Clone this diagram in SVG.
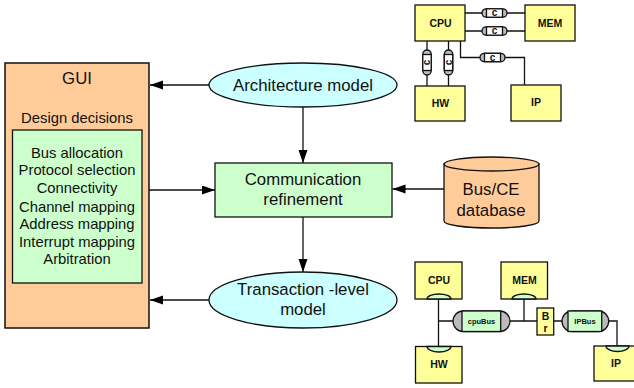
<svg xmlns="http://www.w3.org/2000/svg" width="634" height="388" viewBox="0 0 634 388">
<style>
text{font-family:"Liberation Sans",Arial,sans-serif;fill:#111;text-anchor:middle}
.t{font-size:14.800px}.m{font-size:16.800px}.b{font-weight:bold;font-size:10.500px}
.y{fill:#ffff99;stroke:#111;stroke-width:1.300}
.g{fill:#ccffcc;stroke:#111;stroke-width:1.300}
.gr{fill:#bbbbbb;stroke:#111;stroke-width:1.300}
.w{fill:#fff;stroke:#111;stroke-width:1.300}
.c{fill:none;stroke:#111;stroke-width:1.300}
</style>
<defs>
<marker id="a" markerUnits="userSpaceOnUse" markerWidth="14" markerHeight="10" refX="13" refY="4.500" orient="auto"><path d="M0 0L13 4.500L0 9Z" fill="#000"/></marker>
<g id="chan"><rect x="-12.500" y="-4.200" width="25" height="8.400" rx="4.200" class="gr"/><rect x="-8" y="-4.200" width="16" height="8.400" class="w"/><text y="3" font-size="10" font-weight="bold">c</text></g>
</defs>
<g id="connectors" class="c">
<line x1="209" y1="85" x2="150" y2="85" marker-end="url(#a)"/>
<line x1="142" y1="190" x2="215" y2="190" marker-end="url(#a)"/>
<line x1="444" y1="189" x2="392.500" y2="189" marker-end="url(#a)"/>
<line x1="303" y1="107" x2="303" y2="163" marker-end="url(#a)"/>
<line x1="303" y1="217" x2="303" y2="272" marker-end="url(#a)"/>
<line x1="209" y1="300" x2="150" y2="300" marker-end="url(#a)"/>
<path d="M465 13H525M465 31H525M427 41V86M448.500 41V86M460.500 41V57.500H524.500V85"/>
<path d="M438.500 299V346M438.500 321H453M510 321H537M524 299V321M553.700 321H562M608.700 321H617V346"/>
</g>
<g id="gui"><rect x="5" y="63" width="144" height="265" fill="#ffcc99" stroke="#111" stroke-width="1.500"/>
<text x="77" y="84" class="m">GUI</text><text x="77" y="122.700" class="t">Design decisions</text></g>
<g id="decisions"><rect x="12.500" y="130" width="129.500" height="153" class="g"/>
<text x="77" y="157.500" class="t">Bus allocation</text>
<text x="77" y="175" class="t">Protocol selection</text>
<text x="77" y="193" class="t">Connectivity</text>
<text x="77" y="211.500" class="t">Channel mapping</text>
<text x="77" y="229" class="t">Address mapping</text>
<text x="77" y="246.500" class="t">Interrupt mapping</text>
<text x="77" y="264" class="t">Arbitration</text></g>
<g id="architecture-model"><ellipse cx="303" cy="85" rx="94" ry="22" fill="#ccffff" stroke="#111" stroke-width="1.300"/><text x="303" y="91" class="m">Architecture model</text></g>
<g id="communication-refinement"><rect x="215" y="163" width="177" height="54" class="g"/><text x="303" y="185" class="m">Communication</text><text x="303" y="205" class="m">refinement</text></g>
<g id="transaction-level-model"><ellipse cx="303" cy="300" rx="94" ry="28" fill="#ccffff" stroke="#111" stroke-width="1.300"/><text x="303" y="295" class="m">Transaction -level</text><text x="303" y="315" class="m">model</text></g>
<g id="database"><path d="M444 164V221C444 225 465 228 491.500 228S539 225 539 221V164Z" fill="#ffcc99" stroke="#111" stroke-width="1.300"/><ellipse cx="491.500" cy="164" rx="47.500" ry="7" fill="#ffcc99" stroke="#111" stroke-width="1.300"/><text x="491" y="195" class="m">Bus/CE</text><text x="491" y="216" class="m">database</text></g>
<g id="arch-cpu"><rect x="415" y="5" width="50" height="36" class="y"/><text x="440.500" y="26.500" class="b">CPU</text></g>
<g id="arch-mem"><rect x="525" y="5" width="50" height="36" class="y"/><text x="550" y="26.500" class="b">MEM</text></g>
<g id="arch-hw"><rect x="415" y="86" width="50" height="35" class="y"/><text x="440.500" y="107" class="b">HW</text></g>
<g id="arch-ip"><rect x="511" y="85" width="50" height="36" class="y"/><text x="536" y="106" class="b">IP</text></g>
<g id="arch-c1"><use href="#chan" x="494.500" y="13"/></g>
<g id="arch-c2"><use href="#chan" x="494.500" y="31"/></g>
<g id="arch-c3"><use href="#chan" x="492.500" y="57.500"/></g>
<g id="arch-c4"><use href="#chan" transform="translate(427 62.500) rotate(-90)"/></g>
<g id="arch-c5"><use href="#chan" transform="translate(448.500 62.500) rotate(-90)"/></g>
<g id="tlm-cpu"><rect x="415" y="262" width="47" height="37" class="y"/><path d="M427 299A12 5 0 0 1 451 299Z" class="g"/><text x="439" y="284" class="b">CPU</text></g>
<g id="tlm-mem"><rect x="501" y="262" width="46.500" height="37" class="y"/><path d="M512 299A12 5 0 0 1 536 299Z" class="g"/><text x="524.500" y="284" class="b">MEM</text></g>
<g id="tlm-hw"><rect x="415.500" y="346.500" width="46.500" height="36.500" class="y"/><path d="M427 346.500A12 5.500 0 0 0 451 346.500Z" class="g"/><text x="439" y="368" class="b">HW</text></g>
<g id="tlm-ip"><rect x="594" y="346" width="47" height="35" class="y"/><path d="M606 346A11.500 5.500 0 0 0 629 346Z" class="g"/><text x="616" y="367" class="b">IP</text></g>
<g id="cpubus"><rect x="453" y="311" width="57" height="20.500" rx="10.200" class="gr"/><rect x="462" y="311" width="38.700" height="20.500" class="g"/><text x="481.500" y="323.500" font-size="7.500" font-weight="bold">cpuBus</text></g>
<g id="bridge"><rect x="537" y="308" width="16.700" height="27" class="y"/><text x="545.500" y="320" font-size="10.500" font-weight="bold">B</text><text x="545.500" y="332" font-size="10.500" font-weight="bold">r</text></g>
<g id="ipbus"><rect x="562" y="311" width="46.700" height="20.500" rx="10.200" class="gr"/><rect x="568" y="311" width="33.700" height="20.500" class="g"/><text x="585" y="323.500" font-size="7.500" font-weight="bold">IPBus</text></g>
</svg>
